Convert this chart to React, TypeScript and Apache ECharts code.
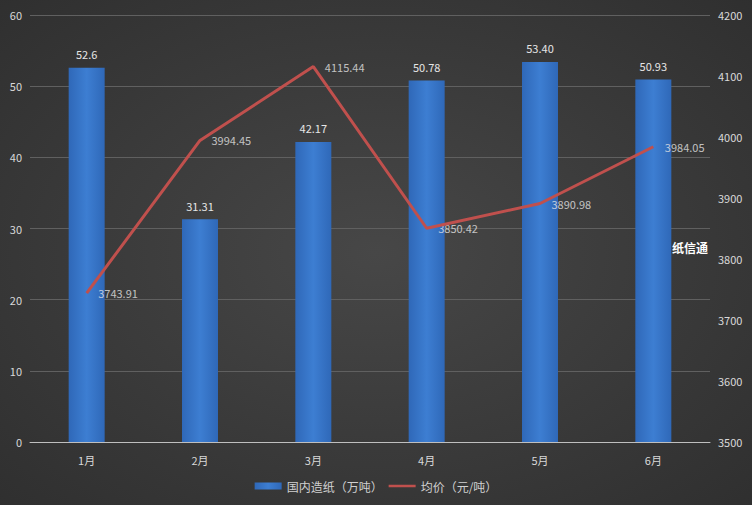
import React, { useEffect, useRef } from "react";
import * as echarts from "echarts";

const categories = ["1月", "2月", "3月", "4月", "5月", "6月"];
const volume = [52.6, 31.31, 42.17, 50.78, 53.4, 50.93];
const volumeLabels = ["52.6", "31.31", "42.17", "50.78", "53.40", "50.93"];
const price = [3743.91, 3994.45, 4115.44, 3850.42, 3890.98, 3984.05];
const priceLabels = ["3743.91", "3994.45", "4115.44", "3850.42", "3890.98", "3984.05"];
const seriesNames = ["国内造纸（万吨）", "均价（元/吨）"];

export default function App() {
  const ref = useRef<HTMLDivElement>(null);
  useEffect(() => {
    document.body.style.margin = "0";
    const chart = echarts.init(ref.current!, null, { renderer: "svg" });
    const font = "'Microsoft YaHei', 'Noto Sans CJK SC', 'Noto Sans', sans-serif";
    chart.setOption({
      animation: false,
      backgroundColor: {
        type: "radial",
        x: 0.5,
        y: 0.5,
        r: 0.75,
        colorStops: [
          { offset: 0, color: "#474747" },
          { offset: 1, color: "#2e2e2e" },
        ],
      },
      textStyle: { fontFamily: font },
      grid: { left: 30, right: 42, top: 15, bottom: 63 },
      legend: {
        bottom: 8,
        left: "center",
        itemWidth: 27,
        itemHeight: 7,
        itemGap: 6,
        textStyle: { color: "#d0d0d0", fontSize: 12, fontFamily: font },
        data: [
          { name: seriesNames[0], icon: "rect" },
          {
            name: seriesNames[1],
            icon: "path://M0,0 L1,0 L0,0 Z M0,2 L30,2 L30,5 L0,5 Z M29,7 L30,7 L29,7 Z",
            itemStyle: { color: "#c0504d" },
          },
        ],
      },
      graphic: [
        {
          type: "text",
          left: 672,
          top: 241,
          style: { text: "纸信通", fill: "#ffffff", fontSize: 12, fontWeight: "bold", fontFamily: font },
        },
      ],
      xAxis: {
        type: "category",
        data: categories,
        axisLine: { lineStyle: { color: "#bfbfbf", width: 1 } },
        axisTick: { show: false },
        axisLabel: { color: "#d9d9d9", fontSize: 11, margin: 12 },
      },
      yAxis: [
        {
          type: "value",
          min: 0,
          max: 60,
          interval: 10,
          axisLine: { show: false },
          axisTick: { show: false },
          axisLabel: { color: "#d9d9d9", fontSize: 11, margin: 8 },
          splitLine: { lineStyle: { color: "#606060", width: 1 } },
        },
        {
          type: "value",
          min: 3500,
          max: 4200,
          interval: 100,
          axisLine: { show: false },
          axisTick: { show: false },
          axisLabel: { color: "#d9d9d9", fontSize: 11, margin: 8, formatter: (v: number) => String(v) },
          splitLine: { show: false },
        },
      ],
      series: [
        {
          name: seriesNames[0],
          type: "bar",
          data: volume,
          barWidth: 36,
          itemStyle: {
            color: {
              type: "linear",
              x: 0,
              y: 0,
              x2: 1,
              y2: 0,
              colorStops: [
                { offset: 0, color: "#2f68b8" },
                { offset: 0.5, color: "#3d7ed2" },
                { offset: 1, color: "#2f68b8" },
              ],
            },
          },
          label: {
            show: true,
            position: "top",
            distance: 8,
            color: "#e6e6e6",
            fontSize: 11,
            formatter: (p: any) => volumeLabels[p.dataIndex],
          },
        },
        {
          name: seriesNames[1],
          type: "line",
          yAxisIndex: 1,
          data: price,
          symbol: "none",
          lineStyle: { color: "#c0504d", width: 3 },
          itemStyle: { color: "#c0504d" },
        },
        {
          name: "labels",
          type: "scatter",
          yAxisIndex: 1,
          data: price,
          symbolSize: 1,
          itemStyle: { color: "rgba(0,0,0,0)" },
          silent: true,
          label: {
            show: true,
            position: "right",
            distance: 11,
            color: "#e6e6e6",
            fontSize: 11,
            formatter: (p: any) => priceLabels[p.dataIndex],
          },
        },
      ],
    });
    return () => chart.dispose();
  }, []);
  return <div ref={ref} style={{ width: 752, height: 505 }} />;
}
